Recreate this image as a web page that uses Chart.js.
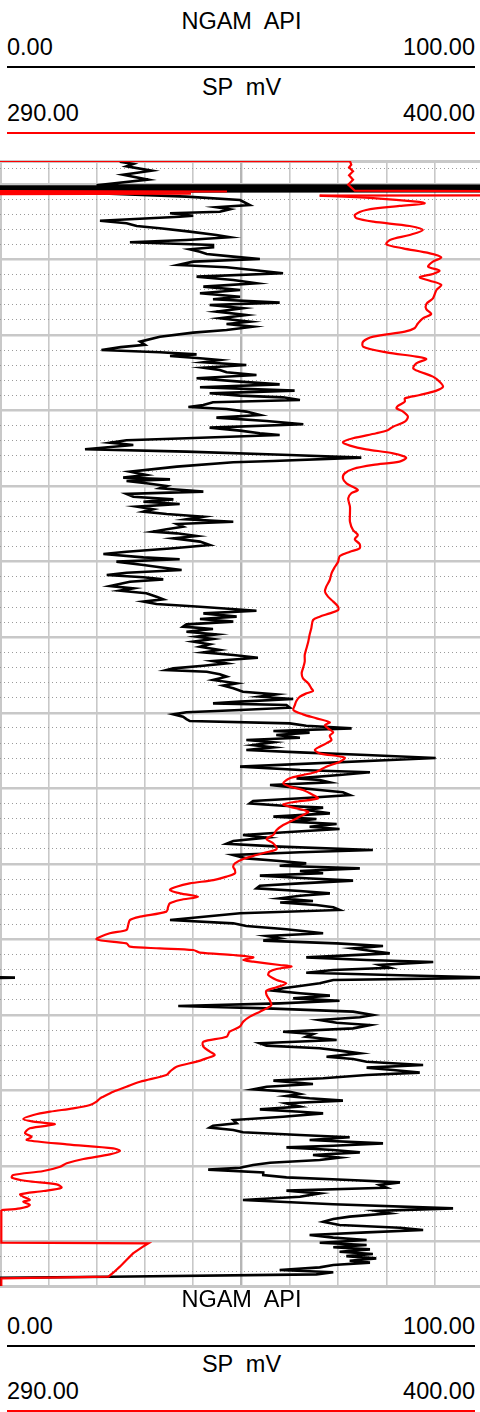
<!DOCTYPE html>
<html>
<head>
<meta charset="utf-8">
<script src="https://cdn.jsdelivr.net/npm/chart.js@4/dist/chart.umd.min.js"></script>
<style>
  html, body { margin:0; padding:0; background:#fff; width:480px; height:1412px; overflow:hidden; position:relative; }
  .t { position:absolute; font-family:"Liberation Sans", Arial, Helvetica, sans-serif; font-size:23.5px; line-height:23px; color:#000; white-space:pre; }
  .c { left:0; width:483px; text-align:center; }
  .l { left:7px; }
  .r { right:5px; text-align:right; }
  .ln { position:absolute; left:7px; width:468px; height:2px; }
  #wrap { position:absolute; left:0; top:150px; width:483px; height:1147px; }
</style>
</head>
<body>
<div class="t c" style="top:9.5px">NGAM  API</div>
<div class="t l" style="top:35.5px">0.00</div>
<div class="t r" style="top:35.5px">100.00</div>
<div class="ln" style="top:65.7px;background:#000"></div>
<div class="t c" style="top:75.5px">SP  mV</div>
<div class="t l" style="top:102.2px">290.00</div>
<div class="t r" style="top:102.2px">400.00</div>
<div class="ln" style="top:131.7px;background:#ff0000"></div>

<div id="wrap"><canvas id="log" width="483" height="1147"></canvas></div>

<div class="t c" style="top:1287.8px">NGAM  API</div>
<div class="t l" style="top:1314.8px">0.00</div>
<div class="t r" style="top:1314.8px">100.00</div>
<div class="ln" style="top:1344.7px;background:#000"></div>
<div class="t c" style="top:1353.2px">SP  mV</div>
<div class="t l" style="top:1379.8px">290.00</div>
<div class="t r" style="top:1379.8px">400.00</div>
<div class="ln" style="top:1410.3px;background:#ff0000"></div>

<script>
// ---- scale ranges ----
const NGAM_MIN = 0, NGAM_MAX = 100;
const SP_MIN = 290, SP_MAX = 400;
const DEPTH_TOP = 996.96, DEPTH_BOTTOM = 1145.86;
const DEPTH_MINOR_STEP = 2, DEPTH_MAJOR_STEP = 10;

// ---- NGAM (API) : [depth, value] ----
const ngamLog = [
[997.05,24.8],[997.35,27.6],[997.66,26.2],[998.24,31.4],[998.77,25.5],[999.43,30.7],[1000.17,20],
[1000.24,105],[1000.3,105],[1000.34,-5],[1000.4,-5],[1000.45,105],[1000.68,105],[1000.72,-5],[1000.8,-5],[1000.84,105],[1000.95,105],[1001.0,-5],
[1001.26,21.4],[1001.68,38.6],[1002.12,49.7],[1002.78,51.7],[1003.08,44.8],[1003.35,47.6],[1003.67,45.5],[1003.88,35.2],[1004.2,40],[1004.33,37.2],[1004.54,31],[1004.86,20.7],[1005.2,26.2],[1005.56,28.3],[1005.86,33.1],[1006.31,39.3],[1006.75,44.8],[1007.05,47.6],[1007.41,38.6],[1007.72,26.9],[1008.07,44.1],[1008.38,44.1],[1008.64,39.3],[1008.96,41.4],[1009.27,42.8],[1009.62,48.3],[1009.93,53.8],[1010.28,40],[1010.72,36.9],[1011.03,46.9],[1011.38,52.4],[1011.82,58.6],[1012.27,40.7],[1012.71,48.3],[1013.14,53.1],[1013.59,42.1],[1014.03,49.7],[1014.47,41.4],[1014.92,49.7],[1015.26,44.1],[1015.71,57.9],[1016.02,43.4],[1016.45,50.3],[1016.9,44.8],[1017.34,51],[1017.78,45.5],[1018.23,51.7],[1018.53,46.9],[1018.89,52.4],[1019.32,46.9],[1019.68,40],[1020.21,33.1],[1020.87,29],[1021.3,30],[1021.6,25],[1021.97,21],
[1022.28,33.1],[1022.55,40.7],[1022.77,35.2],[1023.07,41.4],[1023.3,45.5],[1023.6,42.1],[1023.96,51],[1024.31,42.1],[1024.62,45.5],[1024.93,46.9],[1025.28,53.1],[1025.72,40.7],[1026.16,49.7],[1026.52,57.9],[1026.91,41.4],[1027.35,61],[1027.71,43.4],[1028.02,49.7],[1028.24,58.6],[1028.59,62.1],[1028.9,44.1],[1029.25,42.1],[1029.52,39],[1029.78,46.9],[1030.13,51],[1030.58,53.8],[1030.93,44.8],[1031.37,55.2],[1031.81,62.8],[1032.25,43.4],[1032.65,49.7],[1033.0,53.8],[1033.22,57.9],[1033.66,38.6],[1033.93,26.2],[1034.24,22.8],[1034.55,27.6],[1035.12,17.6],[1035.43,38.6],[1035.87,60],[1036.22,74.8],[1036.66,56.6],[1036.84,48.3],[1037.41,36.6],[1038.08,26.9],[1038.52,30.3],[1038.87,25.5],[1039.1,35.2],
[1039.31,26.2],[1039.62,30.3],[1039.97,34.5],[1040.28,33.1],[1040.72,42.1],[1041.03,26.2],[1041.39,27.6],[1041.74,35.9],[1042.05,29.7],[1042.36,37.2],[1042.71,28.3],[1043.06,31.7],[1043.37,29.7],[1043.68,34.5],[1044.03,42.1],[1044.39,38.6],[1044.7,48.3],[1045.0,36.6],[1045.36,37.9],[1045.71,34.5],[1046.02,31.7],[1046.24,36.6],[1046.59,40.7],[1046.9,35.9],[1047.34,41.4],[1047.78,43.4],[1048.22,35.9],[1048.67,26.2],[1048.97,21.4],[1049.42,29.7],[1049.68,37.2],[1049.99,24.1],[1050.43,29.7],[1050.74,33.1],[1051.09,37.6],[1051.45,26.2],[1051.75,22.1],[1052.06,29.7],[1052.33,33.8],[1052.64,26.9],[1053.21,22.8],[1053.52,27.6],[1053.83,24.8],[1054.18,30.3],[1054.62,32.4],[1054.97,33.8],[1055.28,29.7],[1055.59,32.4],[1055.95,41.4],[1056.48,53.1],[1056.83,42.1],[1057.27,49],
[1057.58,41.4],[1057.93,48.3],[1058.29,38.6],[1058.59,37.9],[1058.9,44.1],[1059.26,38.6],[1059.61,44.8],[1059.92,40.7],[1060.23,44.1],[1060.58,40],[1060.93,43.4],[1061.24,41.4],[1061.68,45.5],[1061.99,42.1],[1062.34,48.3],[1062.7,53.4],[1063.14,44.1],[1063.45,46.9],[1063.76,42.1],[1064.11,35.9],[1064.33,34.5],[1064.55,42.8],[1064.9,45.5],[1065.21,46.9],[1065.65,44.1],[1066.09,49],[1066.4,46.2],[1066.76,48.3],[1067.2,50.3],[1067.55,57.2],[1067.86,53.8],[1068.17,60.7],[1068.52,49.7],[1068.74,44.1],[1068.96,59.3],[1069.32,60],[1069.62,49.7],[1069.93,38.6],[1070.2,35.9],[1070.51,37.9],[1070.82,38.6],[1071.08,39.3],[1071.39,60],[1071.7,63.4],[1072.05,72.8],[1072.4,56.6],[1072.62,64.1],[1072.93,57.2],[1073.29,62.1],[1073.6,51],[1073.9,56.6],[1074.26,52.4],[1074.57,56.6],[1074.92,51],[1075.23,62.1],[1075.58,75.9],[1075.97,90.2],
[1077.12,49.7],[1077.57,62.1],[1077.87,76.6],[1078.23,70.3],[1078.67,61.4],[1078.89,66.2],[1079.2,68.3],[1079.55,55.9],[1079.86,60.7],[1080.21,66.2],[1080.52,71],[1080.87,72.4],[1081.23,64.1],[1081.67,52.4],[1081.98,51.7],[1082.29,58.6],[1082.55,66.9],[1082.86,63.4],[1083.3,68.3],[1083.74,56.6],[1084.05,65.5],[1084.4,60],[1084.71,69.7],[1085.07,64.1],[1085.37,70.3],[1085.73,60.7],[1086.17,50.3],[1086.52,55.2],[1086.96,48.3],[1087.32,46.9],[1087.71,57.9],[1088.15,77.2],[1088.46,62.1],[1088.82,48.3],[1089.26,51],[1089.61,57.9],[1089.92,63.4],[1090.23,57.9],[1090.58,74.5],[1090.93,62.1],[1091.24,66.9],[1091.55,53.8],[1091.9,63.4],[1092.21,73.1],[1092.57,62.1],[1092.88,53.8],[1093.23,53.1],[1093.58,62.1],[1093.89,68.3],[1094.2,62.1],[1094.55,57.9],[1094.9,64.8],[1095.1,58],
[1095.43,65.5],[1095.74,69],[1096.09,70.3],[1096.53,49.7],[1097.42,35.2],[1097.86,48.3],[1098.21,51],[1098.65,59.3],[1099.18,66.9],[1099.53,55.2],[1099.84,57.9],[1100.15,54.5],[1100.51,69.7],[1100.86,79.3],[1101.17,73.1],[1101.48,76.6],[1101.83,80.7],[1102.36,63.4],[1102.71,75.9],[1102.98,89.7],[1103.37,78.6],[1103.73,80.7],[1104.04,69],[1104.39,63.4],[1104.74,82.8],[1105.05,103],[1105.36,69],[1105.8,66.2],[1106.15,62.1],[1106.46,58.6],[1106.77,56.6],[1107.12,62.1],[1107.43,68.3],[1107.79,60.7],[1108.1,70.3],[1108.45,57.9],[1108.8,36.9],[1109.11,55.2],[1109.55,73.1],[1109.99,77.2],[1110.3,74.5],[1110.65,66.2],[1111.01,69.7],[1111.32,76.6],[1111.76,73.1],[1112.2,58.6],[1112.51,64.8],[1112.86,63.4],[1113.3,69.7],[1113.74,53.8],[1114.05,55.2],[1114.4,66.2],[1114.71,70.3],[1115.07,74.5],[1115.51,67.6],[1115.82,73.1],[1116.17,75.9],[1116.61,87.6],[1116.96,75.9],[1117.27,81.4],[1117.62,86.9],[1117.93,75.9],[1118.37,66.9],[1118.68,56.6],[1119.12,64.8],[1119.48,55.2],[1119.83,52.4],[1120.14,60],[1120.45,62.1],
[1120.71,59.3],[1121.02,64.1],[1121.33,71],[1121.68,59.3],[1122.12,62.1],[1122.48,53.8],[1122.79,62.1],[1123.01,66.9],[1123.45,58.6],[1123.89,48.3],[1124.33,49],[1124.64,44.1],[1124.9,43.4],[1125.21,48.3],[1125.52,50.3],[1125.87,62.1],[1126.18,72.4],[1126.54,64.1],[1126.98,79.3],[1127.29,69],[1127.51,59.3],[1127.86,69],[1128.17,74.5],[1128.52,64.8],[1128.87,70.3],[1129.18,66.2],[1129.54,55.9],[1129.85,52.4],[1130.2,49.7],[1130.46,43.1],[1130.82,54.5],[1131.17,54.5],[1131.48,59.3],[1131.83,72.4],[1132.14,82.8],[1132.49,78.6],[1132.85,80],[1133.24,59.3],[1133.6,66.2],[1134.04,62.1],[1134.48,50.3],[1135.05,69],[1135.58,93.8],[1135.93,77.9],[1136.24,80.7],[1136.68,72.4],[1136.99,69],[1137.35,66.9],[1137.79,70.3],[1138.14,82.8],[1138.45,87.6],[1138.76,75.9],[1139.11,64.1],[1139.46,69],[1139.77,75.9],
[1140.13,66.2],[1140.44,75.9],[1140.74,69],[1141.01,76.6],[1141.32,70.3],[1141.63,77.2],[1141.9,71.7],[1142.2,77.9],[1142.51,72.4],[1142.77,76.6],[1143.08,69],[1143.39,66.2],[1143.74,57.9],[1144.05,69],[1144.32,65.5],[1144.63,22.8],[1144.76,0],[1145.9,0]
];
// NGAM values past 100 wrapping back in at the left edge
const ngamWrap = [[1104.98,-1],[1105.05,3.1],[1105.12,-1]];

// ---- SP (mV) : [depth, value] ----
const spTop = [
[996.96,290],[996.98,369.7],[997.45,370.0],[997.8,369.5],[998.32,370.4],[998.85,369.5],[999.43,370.4],[1000.09,369.3],[1000.89,370.8],[1000.97,412],[1001.5,412],[1001.54,362.8]
];
const spLog = [
[1001.54,362.8],[1001.9,375.7],[1002.34,384.8],[1002.56,386.7],[1002.91,381],[1003.44,373.4],[1004.1,370.8],[1004.54,371.2],[1004.99,375],[1005.56,383.3],[1006.09,386.3],[1006.75,383.3],[1007.41,378.8],[1007.99,378],[1008.52,381.8],[1009.18,387.9],[1009.71,390.5],[1010.28,388.6],[1010.94,387.5],[1011.47,390.1],[1011.91,388.6],[1012.35,385.6],[1012.8,387.9],[1013.37,390.5],[1014.03,389.4],[1015.13,388.6],[1015.88,387.1],[1016.59,387.1],[1017.21,388.2],[1017.78,386.3],[1018.44,385.2],[1019.1,384.4],[1019.55,382.2],[1020.21,375],[1020.87,372.7],[1021.53,372.7],
[1022.28,378],[1022.85,384.8],[1023.16,387.1],[1023.74,384.8],[1024.4,384.1],[1024.84,385.6],[1025.5,388.6],[1026.16,390.1],[1026.83,390.9],[1027.35,389.4],[1027.93,385.6],[1028.37,382.2],[1028.81,382.2],[1029.34,380.7],[1029.69,380.3],[1030.13,381.8],[1030.8,382.9],[1031.46,382.2],[1032.12,379.5],[1032.56,378.4],[1033.0,375.7],[1033.66,370.4],[1034.19,368.1],[1034.63,369.7],[1035.12,373.4],[1035.65,379.5],[1036.22,382.5],[1036.75,381],[1037.19,375],[1037.72,370.4],[1038.3,368.5],[1038.96,368.1],[1039.62,368.9],
[1040.5,371.5],[1040.94,370],[1041.61,369.3],[1042.71,369.7],[1043.59,369.7],[1044.7,369.7],[1045.8,370.4],[1046.46,371.5],[1047.03,370.8],[1047.65,371.9],[1048.22,371.9],[1048.67,369.7],[1049.24,367.4],[1049.99,367],[1050.74,366.2],[1051.53,365.5],[1052.42,365.1],[1053.3,364.3],[1053.96,364],[1054.62,364.7],[1055.28,365.9],[1055.95,367],[1056.39,367],[1056.83,365.1],[1057.27,362.8],
[1057.71,361.3],[1058.81,360.9],[1059.7,360.5],[1060.58,360.2],[1061.46,359.8],[1062.34,359.4],[1063.23,359.4],[1064.11,359],[1064.77,358.7],[1065.43,359],[1066.09,360.2],[1066.76,360.9],[1067.11,361.3],[1067.42,359.8],[1067.86,358.3],[1068.43,357.5],[1069.05,357.1],[1069.62,356.8],[1070.2,359],[1070.73,362.1],[1071.26,365.1],[1071.61,364],[1072.05,364.7],[1072.58,365.9],[1073.02,365.1],[1073.6,365.5],[1074.04,364.3],[1074.48,362.8],[1074.92,361.7],[1075.36,362.8],
[1075.93,368.5],[1076.46,367.4],[1077.12,364.3],[1077.79,362.1],[1078.23,359],[1078.67,356],[1079.33,354.5],[1079.77,356],[1080.21,359],[1080.87,361.3],[1081.32,362.4],[1081.76,357.5],[1082.11,354.5],[1082.55,356.8],[1083.08,360.2],[1083.52,359],[1084.18,356.8],[1084.85,354.5],[1085.51,353],[1086.17,352.2],[1086.7,350.7],[1087.27,352.2],[1088.02,353],[1088.46,350.7],[1088.82,348.4],[1089.35,345.4],[1089.92,343.5],[1090.36,343.1],[1090.8,343.5],[1091.24,343.5],[1091.68,341.6],[1092.13,338.6],[1092.57,333.2],[1093.01,330.2],[1093.45,328.7],[1093.89,331],[1094.33,335.1],[1094.77,331],[1095.21,328.7],
[1095.65,328.3],[1096.31,327.9],[1096.98,321.9],[1097.42,319.6],[1098.08,319.2],[1098.74,318.8],[1099.18,315],[1099.98,312],[1100.51,318.8],[1100.95,319.6],[1101.17,326.4],[1101.39,334],[1101.74,335.5],[1102.05,343.1],[1102.36,347.7],[1102.71,345.4],[1102.93,347.7],[1103.37,353.7],[1103.59,356.4],[1103.9,353],[1104.26,351.4],[1104.7,351.1],[1105.36,353],[1105.8,355.2],[1106.33,353],[1106.77,350.7],[1107.34,350.7],[1108.01,351.4],[1108.67,351.8],[1109.11,350.7],[1109.55,349.2],[1110.21,346.9],[1110.87,345.4],[1111.54,344.6],[1112.2,342.3],[1112.86,341.6],[1113.52,336.3],[1114.18,336.3],[1114.84,337.8],[1115.29,338.9],[1115.73,337],[1116.17,334.8],[1116.83,330.2],[1117.49,328.7],[1117.93,327.9],[1118.82,321.9],[1119.48,318.8],[1120.14,315.8],[1120.8,313.5],
[1121.02,312.8],[1121.46,312],[1121.9,310.5],[1122.34,306.7],[1122.79,301.4],[1123.23,297.6],[1123.76,295.3],[1124.11,297.6],[1124.46,302.5],[1124.99,296.8],[1125.65,295.7],[1126.1,297.2],[1126.54,296.1],[1127.11,305.2],[1127.64,315.8],[1127.99,317.3],[1128.43,315],[1129.05,309],[1129.62,305.2],[1130.07,303.7],[1130.64,299.9],[1131.17,293],[1131.52,292.7],[1131.96,296.1],[1132.4,302.9],[1132.85,304],[1133.29,299.9],[1133.73,294.6],[1134.04,295.3],[1134.48,296.8],[1134.7,295.3],[1135.14,296.8],[1135.58,294.6],[1135.8,290.3]
];
const spBottom = [
[1135.8,290.3],[1140.13,290.3],[1140.21,323.8],[1140.74,322.3],[1141.54,320.3],[1142.42,318.8],[1143.3,317.3],[1144.1,315.8],[1144.63,314.7],[1144.85,290.3],[1145.9,290.3]
];
// SP values past 400 wrapping back in at the left edge
const spWrap = [[1000.95,288],[1001.0,341.7],[1001.05,288],[1001.2,288],[1001.28,333.5],[1001.36,288]];

const toPts = arr => arr.map(([d, v]) => ({ x: v, y: d }));
const isMajor = v => v === DEPTH_TOP || v === DEPTH_BOTTOM || Math.round(v) % DEPTH_MAJOR_STEP === 0;

const lineDs = (label, arr, axis, color, w, tension) => ({
  label, data: toPts(arr), xAxisID: axis, yAxisID: 'y',
  showLine: true, borderColor: color, backgroundColor: color, borderWidth: w,
  pointRadius: 0, pointHoverRadius: 0, tension: tension || 0, fill: false
});

new Chart(document.getElementById('log'), {
  type: 'scatter',
  data: {
    datasets: [
      lineDs('SP', spLog, 'xsp', '#ff0000', 2.2, 0.3),
      lineDs('SP top', spTop, 'xsp', '#ff0000', 2.2, 0),
      lineDs('SP bottom', spBottom, 'xsp', '#ff0000', 2.2, 0),
      lineDs('SP wrap', spWrap, 'xsp', '#ff0000', 2.2, 0),
      lineDs('NGAM', ngamLog, 'x', '#000000', 2.6, 0),
      lineDs('NGAM wrap', ngamWrap, 'x', '#000000', 2.6, 0)
    ]
  },
  options: {
    responsive: false, animation: false, events: [],
    layout: { padding: { top: 11, bottom: 11, left: 0, right: 0 } },
    plugins: { legend: { display: false }, tooltip: { enabled: false } },
    scales: {
      x: {
        type: 'linear', position: 'top', min: NGAM_MIN, max: NGAM_MAX,
        ticks: { display: false, stepSize: 10 },
        grid: {
          drawTicks: false,
          color: c => c.tick && c.tick.value === 50 ? '#b5b5b5' : '#c8c8c8',
          lineWidth: c => !c.tick ? 1.6 : (c.tick.value === 0 ? 3 : (c.tick.value === 50 ? 2.4 : 1.6))
        },
        border: { display: false }
      },
      xsp: { type: 'linear', position: 'top', min: SP_MIN, max: SP_MAX, display: false },
      y: {
        type: 'linear', reverse: true, min: DEPTH_TOP, max: DEPTH_BOTTOM,
        afterBuildTicks: s => {
          const t = [{ value: DEPTH_TOP }];
          for (let d = 998; d < DEPTH_BOTTOM; d += DEPTH_MINOR_STEP) t.push({ value: d });
          t.push({ value: DEPTH_BOTTOM });
          s.ticks = t;
        },
        ticks: { display: false },
        grid: {
          drawTicks: false,
          color: c => (!c.tick || isMajor(c.tick.value)) ? '#c8c8c8' : '#9a9a9a',
          lineWidth: c => !c.tick ? 1 : ((c.tick.value === DEPTH_TOP || c.tick.value === DEPTH_BOTTOM) ? 3 : (isMajor(c.tick.value) ? 2.5 : 1)),
          borderDash: c => (c.tick && !isMajor(c.tick.value)) ? [1, 3] : []
        },
        border: { display: false, dash: c => (c.tick && !isMajor(c.tick.value)) ? [1, 3] : [] }
      }
    }
  }
});
</script>
</body>
</html>
